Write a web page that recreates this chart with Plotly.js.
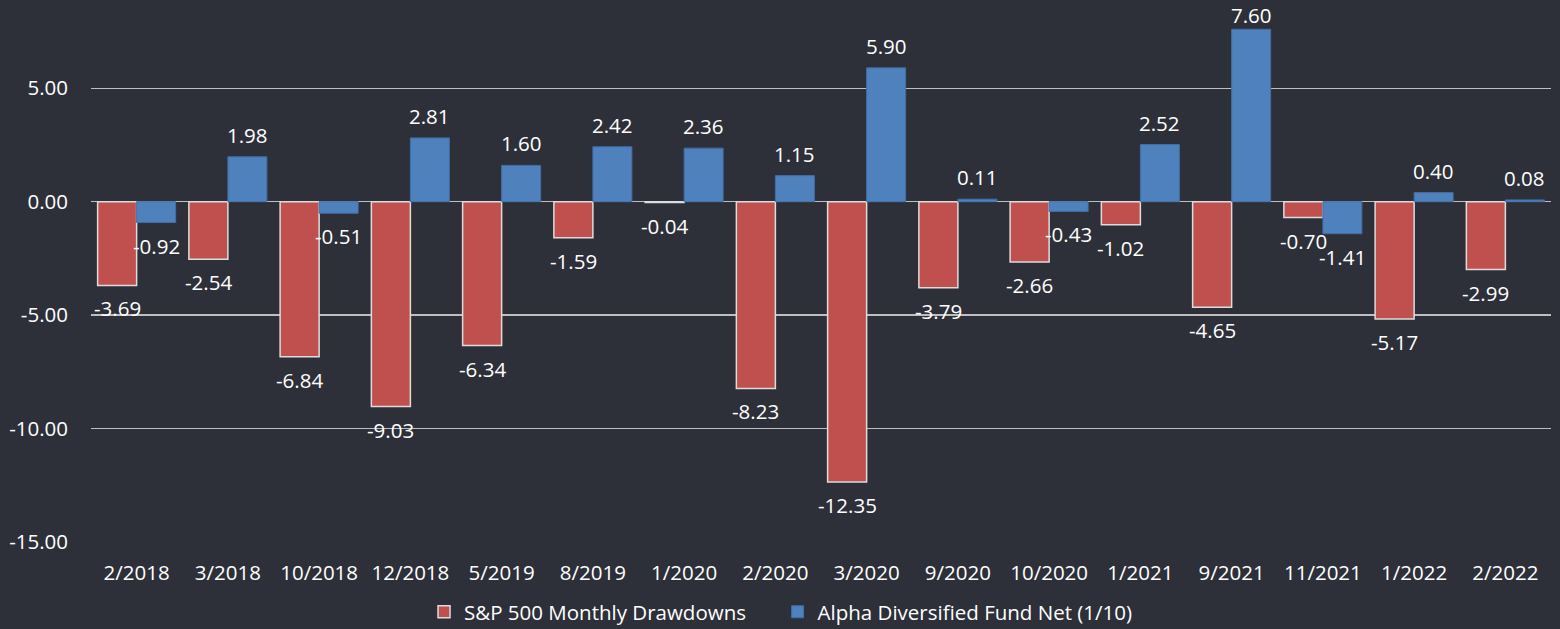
<!DOCTYPE html>
<html>
<head>
<meta charset="utf-8">
<script src="https://cdn.plot.ly/plotly-3.0.1.min.js"></script>
<style>html,body{margin:0;padding:0;background:#2d3038;}#chart{width:1560px;height:629px;}</style>
</head>
<body>
<div id="chart"></div>
<script>
const categories = ["2/2018","3/2018","10/2018","12/2018","5/2019","8/2019","1/2020","2/2020","3/2020","9/2020","10/2020","1/2021","9/2021","11/2021","1/2022","2/2022"];
const spDrawdowns = [-3.69,-2.54,-6.84,-9.03,-6.34,-1.59,-0.04,-8.23,-12.35,-3.79,-2.66,-1.02,-4.65,-0.70,-5.17,-2.99];
const alphaFund = [-0.92,1.98,-0.51,2.81,1.60,2.42,2.36,1.15,5.90,0.11,-0.43,2.52,7.60,-1.41,0.40,0.08];
const seriesNames = ["S&P 500 Monthly Drawdowns","Alpha Diversified Fund Net (1/10)"];
const yTicks = [-15,-10,-5,0,5];

const fontFam = "Open Sans, Liberation Sans, sans-serif";
const fs = 20.5;
const yRange = [-15, 8.89];
const plotH = 629 - 87;
const legendPad = "\u00a0\u00a0\u00a0\u00a0\u00a0";
const traces = [
  {type:'bar', name:seriesNames[0] + legendPad, x:categories, y:spDrawdowns,
   marker:{color:'#c0504d', line:{color:'#dcdcdc', width:1.5}}, hoverinfo:'none'},
  {type:'bar', name:seriesNames[1], x:categories, y:alphaFund,
   marker:{color:'#4f81bd', line:{color:'#3f6ea6', width:1}}, hoverinfo:'none'}
];
// labels sit just outside the bar end, kept inside the chart area like Excel does
function labelShift(v){
  if (v < 0) return -23;
  const pxFromTop = (yRange[1] - v) / (yRange[1] - yRange[0]) * plotH;
  return Math.min(22, pxFromTop - 15);
}
const annotations = [];
[[spDrawdowns,-19.6],[alphaFund,19.6]].forEach(([vals,dx])=>{
  vals.forEach((v,i)=>{
    annotations.push({x:categories[i], y:v, xref:'x', yref:'y', text:v.toFixed(2), showarrow:false,
      xshift:dx, yshift:labelShift(v), xanchor:'center', yanchor:'middle',
      font:{family:fontFam, size:fs, color:'#ffffff'}});
  });
});
const layout = {
  width:1560, height:629,
  paper_bgcolor:'#2d3038', plot_bgcolor:'#2d3038',
  margin:{l:91, r:9, t:0, b:87, autoexpand:false},
  barmode:'group', bargap:0.145, bargroupgap:0,
  font:{family:fontFam, color:'#ffffff', size:fs},
  xaxis:{type:'category', showgrid:false, zeroline:false, showline:false, ticks:'',
         tickfont:{size:fs, color:'#ffffff'}, automargin:false, ticklabelstandoff:16},
  yaxis:{range:yRange, tickvals:yTicks, ticktext:yTicks.map(v=>v.toFixed(2)),
         showgrid:true, gridcolor:'#bfbfbf', gridwidth:1.5, zeroline:true, zerolinecolor:'#bfbfbf', zerolinewidth:1.5,
         showline:false, ticks:'', tickfont:{size:fs, color:'#ffffff'}, automargin:false, ticklabelstandoff:22},
  legend:{orientation:'h', x:0.2281, xanchor:'left', y:-0.129, yanchor:'middle',
          font:{size:fs, color:'#ffffff'}, bgcolor:'rgba(0,0,0,0)', itemwidth:30},
  annotations:annotations,
  showlegend:true
};
Plotly.newPlot('chart', traces, layout, {displayModeBar:false, staticPlot:true});
</script>
</body>
</html>
